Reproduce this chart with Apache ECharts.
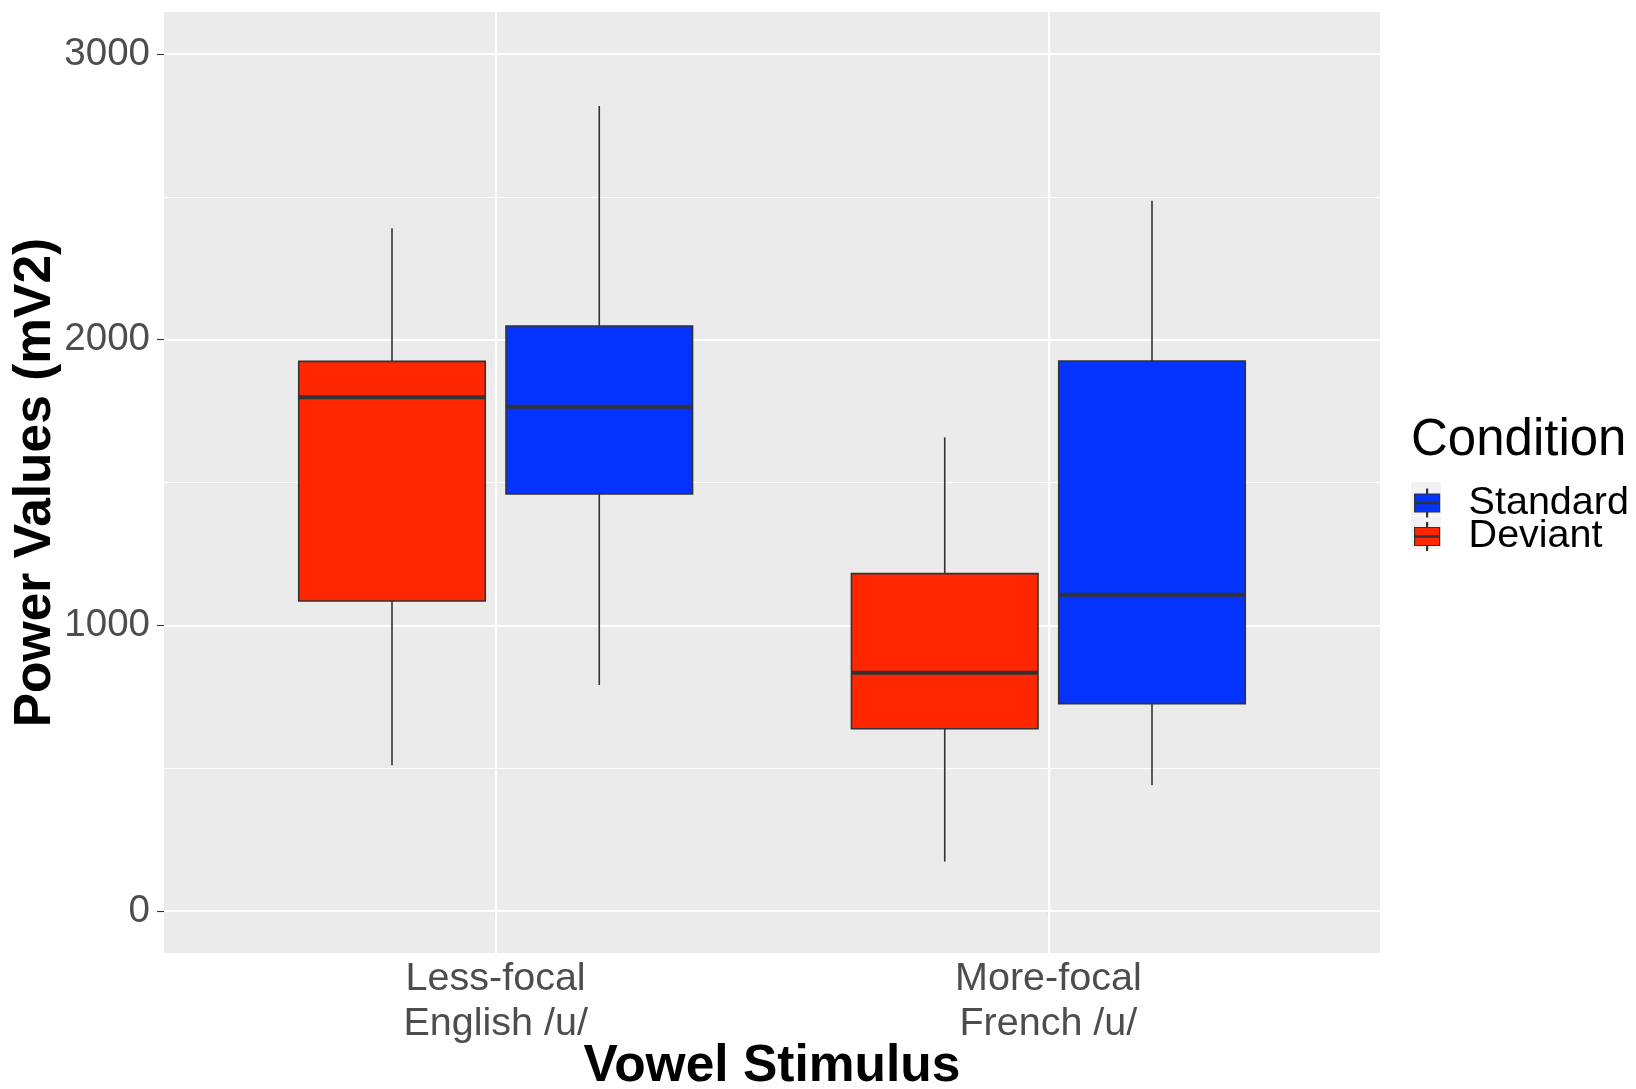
<!DOCTYPE html>
<html>
<head>
<meta charset="utf-8">
<script src="https://cdn.jsdelivr.net/npm/echarts@6/dist/echarts.min.js"></script>
<style>
html,body{margin:0;padding:0;background:#fff;}
#chart{width:1636px;height:1089px;}
</style>
</head>
<body>
<div id="chart"></div>
<script>
// ---- data ----
const categories = ['Less-focal\nEnglish /u/', 'More-focal\nFrench /u/'];
const seriesNames = ['Standard', 'Deviant'];
// [lower whisker, Q1, median, Q3, upper whisker]
const standardValues = [
  [791, 1460, 1765, 2048, 2818],
  [440, 726, 1107, 1925, 2486]
];
const deviantValues = [
  [510, 1085, 1798, 1924, 2390],
  [173, 638, 834, 1181, 1658]
];
const yTickValues = [0, 1000, 2000, 3000];
const yMinorValues = [500, 1500, 2500];
const xTickValues = [1, 2];

// ---- layout / style ----
const FONT = "'Liberation Sans', Arial, Helvetica, sans-serif";
const DODGE = 0.1875;
const BOX_W = 0.3375;
const colors = { Standard: '#0433FF', Deviant: '#FF2600' };

function toItems(vals, offset) {
  return vals.map((v, i) => [i + 1 + offset].concat(v));
}

function renderBox(params, api) {
  const x = api.value(0);
  const lo = api.coord([x, api.value(1)]);
  const q1 = api.coord([x, api.value(2)]);
  const md = api.coord([x, api.value(3)]);
  const q3 = api.coord([x, api.value(4)]);
  const hi = api.coord([x, api.value(5)]);
  const w = api.size([BOX_W, 0])[0];
  const cx = md[0];
  const fill = api.visual('color');
  const edge = '#333333';
  return {
    type: 'group',
    children: [
      { type: 'line', shape: { x1: cx, y1: hi[1], x2: cx, y2: q3[1] }, style: { stroke: edge, lineWidth: 1.6 } },
      { type: 'line', shape: { x1: cx, y1: q1[1], x2: cx, y2: lo[1] }, style: { stroke: edge, lineWidth: 1.6 } },
      { type: 'rect', shape: { x: cx - w / 2, y: q3[1], width: w, height: q1[1] - q3[1] }, style: { fill: fill, stroke: edge, lineWidth: 1.6 } },
      { type: 'line', shape: { x1: cx - w / 2, y1: md[1], x2: cx + w / 2, y2: md[1] }, style: { stroke: edge, lineWidth: 4 } }
    ]
  };
}

const gridLineData = []
  .concat(yTickValues.map(v => ({ yAxis: v, lineStyle: { width: 2.2 } })))
  .concat(yMinorValues.map(v => ({ yAxis: v, lineStyle: { width: 1.1 } })))
  .concat(xTickValues.map(v => ({ xAxis: v, lineStyle: { width: 2.2 } })));

const legendIcon = 'path://M12,0L13,0L13,5L12,5Z M0,5L25,5L25,13.4L0,13.4Z M0,14.6L25,14.6L25,23L0,23Z M12,23L13,23L13,28L12,28Z';

const chart = echarts.init(document.getElementById('chart'), null, { renderer: 'canvas' });
chart.setOption({
  animation: false,
  backgroundColor: '#ffffff',
  textStyle: { fontFamily: FONT },
  title: [{
    text: 'Condition',
    left: 1411, top: 415.5, padding: 0,
    textStyle: { fontSize: 51, lineHeight: 51, fontWeight: 'normal', color: '#000000', fontFamily: FONT }
  }],
  legend: {
    data: ['Standard', 'Deviant'],
    orient: 'vertical',
    left: 1414, top: 483, padding: 0,
    itemWidth: 25, itemHeight: 28, itemGap: -6.5,
    icon: legendIcon,
    itemStyle: { borderColor: '#333333', borderWidth: 1.2 },
    textStyle: { fontSize: 39.5, lineHeight: 40, color: '#000000', fontFamily: FONT, padding: [0, 0, 0, 24] },
    selectedMode: false
  },
  graphic: [
    { type: 'rect', z: -1, shape: { x: 1411, y: 482, width: 30, height: 33 }, style: { fill: '#F2F2F2' } },
    { type: 'rect', z: -1, shape: { x: 1411, y: 516, width: 30, height: 33 }, style: { fill: '#F2F2F2' } }
  ],
  grid: {
    left: 164, top: 12, width: 1216, height: 941,
    show: true, backgroundColor: '#EBEBEB', borderWidth: 0,
    containLabel: false,
    outerBoundsMode: 'none'
  },
  xAxis: {
    type: 'value', min: 0.4, max: 2.6,
    name: 'Vowel Stimulus', nameLocation: 'middle', nameGap: 88, nameMoveOverlap: false,
    nameTextStyle: { fontSize: 51.5, fontWeight: 'bold', color: '#000000', fontFamily: FONT, lineHeight: 51.5 },
    axisLine: { show: false },
    axisTick: { show: true, customValues: xTickValues, length: 6, lineStyle: { color: '#333333', width: 1.1 } },
    axisLabel: {
      customValues: xTickValues,
      formatter: v => categories[Math.round(v) - 1] || '',
      fontSize: 39.5, lineHeight: 44.5, color: '#4D4D4D', margin: 4, fontFamily: FONT
    },
    splitLine: { show: false }
  },
  yAxis: {
    type: 'value', min: -147, max: 3147,
    name: 'Power Values (mV2)', nameLocation: 'middle', nameGap: 102, nameRotate: 90, nameMoveOverlap: false,
    nameTextStyle: { fontSize: 51.5, fontWeight: 'bold', color: '#000000', fontFamily: FONT, lineHeight: 51.5 },
    axisLine: { show: false },
    axisTick: { show: true, customValues: yTickValues, length: 7, lineStyle: { color: '#333333', width: 1.1 } },
    axisLabel: { customValues: yTickValues, formatter: v => String(v), fontSize: 38.5, color: '#4D4D4D', margin: 14, fontFamily: FONT },
    splitLine: { show: false }
  },
  series: [
    {
      type: 'line', name: 'gridlines', data: [], silent: true, z: 1,
      markLine: {
        silent: true, z: 1, symbol: 'none', animation: false,
        label: { show: false },
        lineStyle: { color: '#ffffff', type: 'solid' },
        emphasis: { disabled: true },
        data: gridLineData
      }
    },
    {
      type: 'custom', name: 'Deviant', z: 3,
      itemStyle: { color: colors.Deviant, borderColor: '#333333', borderWidth: 1.2 },
      renderItem: renderBox,
      encode: { x: 0, y: [1, 2, 3, 4, 5] },
      data: toItems(deviantValues, -DODGE)
    },
    {
      type: 'custom', name: 'Standard', z: 3,
      itemStyle: { color: colors.Standard, borderColor: '#333333', borderWidth: 1.2 },
      renderItem: renderBox,
      encode: { x: 0, y: [1, 2, 3, 4, 5] },
      data: toItems(standardValues, DODGE)
    }
  ]
});
</script>
</body>
</html>
